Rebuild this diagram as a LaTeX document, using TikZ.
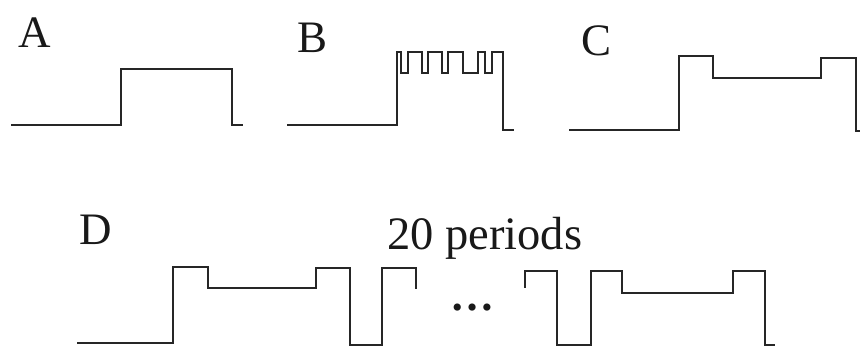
\documentclass[tikz,border=0pt]{standalone}
\usepackage{fontspec}
\setmainfont{Liberation Serif}
\begin{document}
\begin{tikzpicture}[x=1pt,y=-1pt,
  wave/.style={line width=2.5pt,draw=black!85,line join=miter,line cap=butt},
  lab/.style={inner sep=0pt,anchor=base west,font=\fontsize{45}{48}\selectfont,text=black!90}]
\useasboundingbox (0,0) rectangle (860,347);
\fill[white] (0,0) rectangle (860,347);
% labels
\node[lab] (la) at (18,48) {A};
\node[lab] (lb) at (297,53) {B};
\node[lab] (lc) at (581,56) {C};
\node[lab] (ld) at (79,245) {D};
\node[lab,font=\fontsize{46.5}{48}\selectfont] (lp) at (387,250) {20 periods};
\node[inner sep=0pt,font=\fontsize{44}{48}\selectfont\bfseries,text=black!90] (dots) at (472,308) {…};
% A
\draw[wave] (11,125) -- (121,125) -- (121,69) -- (232,69) -- (232,125) -- (243,125);
% B
\draw[wave] (287,125) -- (397,125) -- (397,52) -- (401,52) -- (401,73) -- (408,73) -- (408,52)
  -- (422,52) -- (422,73) -- (428,73) -- (428,52) -- (442,52) -- (442,73) -- (448,73) -- (448,52)
  -- (463,52) -- (463,73) -- (478,73) -- (478,52) -- (485,52) -- (485,73) -- (492,73) -- (492,52)
  -- (503,52) -- (503,130) -- (514,130);
% C
\draw[wave] (569,130) -- (679,130) -- (679,56) -- (713,56) -- (713,78) -- (821,78) -- (821,58)
  -- (856,58) -- (856,131) -- (861,131);
% D left
\draw[wave] (77,343) -- (173,343) -- (173,267) -- (208,267) -- (208,288) -- (316,288) -- (316,268)
  -- (350,268) -- (350,345) -- (382,345) -- (382,268) -- (416,268) -- (416,289);
% D right
\draw[wave] (525,288) -- (525,271) -- (557,271) -- (557,345) -- (591,345) -- (591,271) -- (622,271)
  -- (622,293) -- (733,293) -- (733,271) -- (765,271) -- (765,345) -- (775,345);
\end{tikzpicture}
\end{document}
